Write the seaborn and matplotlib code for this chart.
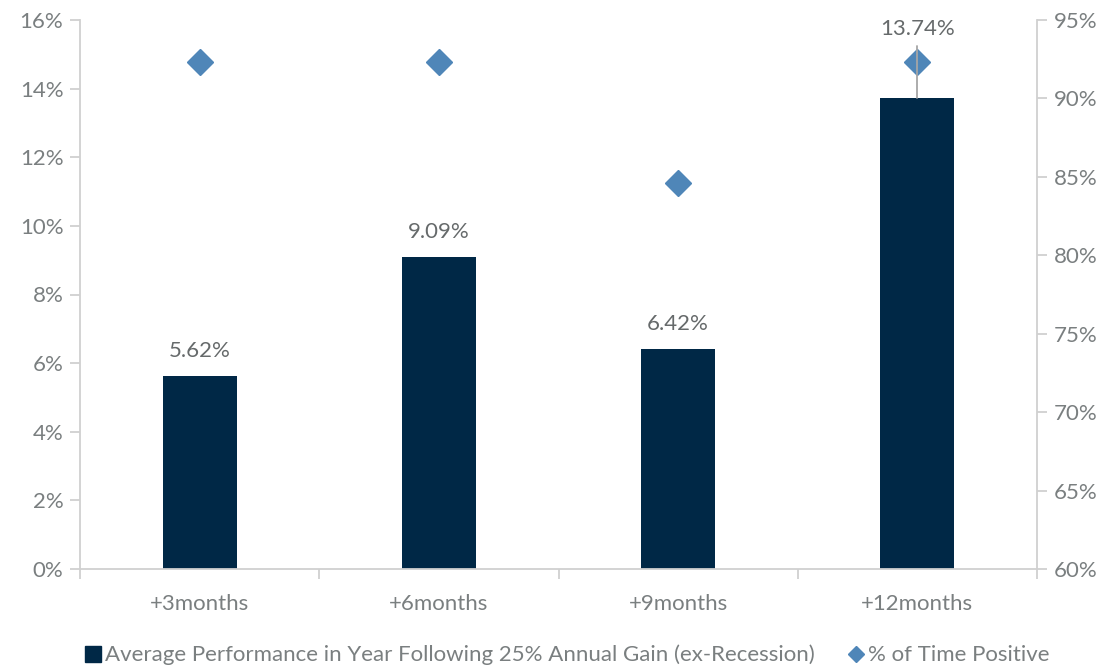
import matplotlib
matplotlib.use("Agg")
import matplotlib.pyplot as plt
import seaborn as sns
import pandas as pd
from matplotlib.ticker import FuncFormatter, FixedLocator
from matplotlib.lines import Line2D

categories = ["+3months", "+6months", "+9months", "+12months"]
avg_perf = [5.62, 9.09, 6.42, 13.74]
pct_positive = [92.31, 92.31, 84.62, 92.31]
left_ticks = [0, 2, 4, 6, 8, 10, 12, 14, 16]
right_ticks = [60, 65, 70, 75, 80, 85, 90, 95]

bar_color = "#002846"
diamond_color = "#4f86b8"
text_color = "#7a7f80"
label_color = "#666a6b"
spine_color = "#d0d0d0"
FS = 16

sns.set_theme(style="white")
plt.rcParams["font.family"] = ["Lato", "DejaVu Sans"]

fig = plt.figure(figsize=(11.09, 6.69), dpi=100)
ax = fig.add_axes([80/1109, 1-569/669, (1037-80)/1109, (569-20)/669])

df = pd.DataFrame({"cat": categories, "val": avg_perf})
sns.barplot(data=df, x="cat", y="val", color=bar_color, width=0.31, ax=ax, saturation=1)
for p in ax.patches:
    p.set_edgecolor("none")

ax.set_xlim(-0.5, 3.5)
ax.set_ylim(0, 16)
ax.set_yticks(left_ticks)
ax.yaxis.set_major_formatter(FuncFormatter(lambda v, p: f"{v:.0f}%"))
ax.set_xlabel("")
ax.set_ylabel("")

# data labels (last one moved above the diamond, with leader line)
label_y = [v + 0.73 for v in avg_perf]
label_y[3] = 15.75
for i, v in enumerate(avg_perf):
    ax.text(i, label_y[i], f"{v:.2f}%", ha="center", va="center", fontsize=FS, color=label_color)

ax2 = ax.twinx()
ax2.set_ylim(60, 95)
ax2.set_yticks(right_ticks)
ax2.yaxis.set_major_formatter(FuncFormatter(lambda v, p: f"{v:.0f}%"))
ax2.plot(range(len(categories)), pct_positive, linestyle="none", marker="D",
         markersize=13, color=diamond_color, zorder=5)
# leader line drawn in left-axis data coordinates, on top of the diamond
ax2.plot([3, 3], [avg_perf[3], 15.25], color="#a6a6a6", lw=1.3, zorder=6,
         transform=ax.transData)

for a in (ax, ax2):
    for s in a.spines.values():
        s.set_visible(False)
ax.spines["left"].set_visible(True)
ax.spines["bottom"].set_visible(True)
ax2.spines["right"].set_visible(True)
for s in (ax.spines["left"], ax.spines["bottom"], ax2.spines["right"]):
    s.set_color(spine_color)
    s.set_linewidth(1.3)

ax.tick_params(axis="y", which="major", left=True, length=7, color=spine_color, width=1.3,
               labelsize=FS, labelcolor=text_color, pad=5)
ax2.tick_params(axis="y", which="major", right=True, length=7, color=spine_color, width=1.3,
                labelsize=FS, labelcolor=text_color, pad=5)
ax.tick_params(axis="x", which="major", bottom=False, labelsize=FS, labelcolor=text_color, pad=12)
ax.xaxis.set_minor_locator(FixedLocator([-0.5, 0.5, 1.5, 2.5, 3.5]))
ax.tick_params(axis="x", which="minor", bottom=True, length=7, color=spine_color, width=1.3)

handles = [
    Line2D([], [], linestyle="none", marker="s", markersize=12, color=bar_color),
    Line2D([], [], linestyle="none", marker="D", markersize=8, color=diamond_color),
]
labels = ["Average Performance in Year Following 25% Annual Gain (ex-Recession)", "% of Time Positive"]
fig.legend(handles, labels, loc="center", bbox_to_anchor=(566/1109, 1-655/669), ncol=2,
           frameon=False, fontsize=FS, labelcolor=text_color, handletextpad=0.1,
           columnspacing=1.4, handlelength=0.9)

fig.savefig("out.png", dpi=100)
